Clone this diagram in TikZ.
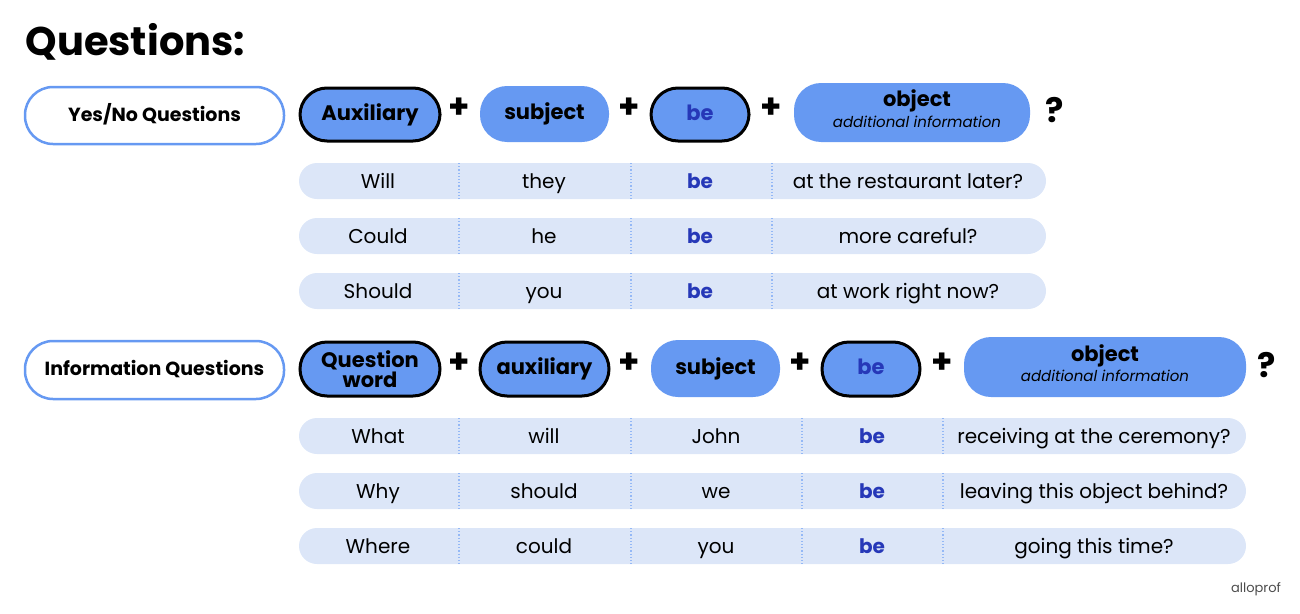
\documentclass[tikz,border=0pt]{standalone}
\usepackage{fontspec}
\setmainfont{Poppins}
\definecolor{pblue}{HTML}{6699F2}
\definecolor{rowc}{HTML}{DCE6F8}
\definecolor{bec}{HTML}{2638B8}
\begin{document}
\begin{tikzpicture}[x=1pt,y=-1pt,
 pill/.style={rounded corners=27pt,fill=pblue},
 bpill/.style={pill,draw=black,line width=3pt},
 cat/.style={rounded corners=28pt,fill=white,draw=pblue,line width=2.5pt},
 hd/.style={font=\fontsize{21}{21}\selectfont\bfseries,align=center,text height=15pt,text depth=5pt,inner sep=0pt},
 cell/.style={font=\fontsize{20}{20}\selectfont,text height=14pt,text depth=5pt,inner sep=0pt,yshift=-3pt},
 becell/.style={cell,font=\fontsize{20}{20}\selectfont\bfseries,text=bec},
 plus/.style={font=\fontsize{34}{34}\selectfont\bfseries},
 row/.style={fill=rowc,rounded corners=18pt},
 div/.style={draw=pblue!70,dotted,line width=1.2pt}]
\useasboundingbox (0,0) rectangle (1300,613);
\node[anchor=west,font=\fontsize{40}{40}\selectfont\bfseries] (title) at (22,42) {Questions:};
% Yes/No
\draw[cat] (25,87) rectangle (284,144);
\node[hd,font=\fontsize{19}{19}\selectfont\bfseries] (yn) at (154.5,116) {Yes/No Questions};
\draw[bpill] (300,88) rectangle (440,141); \node[hd] (a1) at (370,115) {Auxiliary};
\node[plus] (p1) at (459,108) {+};
\fill[pill] (480,86) rectangle (609,142); \node[hd] (s1) at (544.5,114) {subject};
\node[plus] (p2) at (629,108) {+};
\draw[bpill] (651,88) rectangle (749,141); \node[hd,text=bec] (b1) at (700,115) {be};
\node[plus] (p3) at (771,108) {+};
\fill[pill] (794,83) rectangle (1030,142);
\node[hd] (o1) at (917,101) {object};
\node[font=\fontsize{15}{15}\selectfont\itshape] (o1b) at (917,122) {additional information};
\node[plus] (q1) at (1055,110) {?};
\foreach \y/\a/\b/\d [count=\i] in {181/Will/they/at the restaurant later?,236/Could/he/more careful?,291/Should/you/at work right now?}{
 \fill[row] (299,\y-18) rectangle (1046,\y+18);
 \draw[div] (459,\y-18) -- (459,\y+18);
 \draw[div] (631,\y-18) -- (631,\y+18);
 \draw[div] (772,\y-18) -- (772,\y+18);
 \node[cell] (ya\i) at (378,\y) {\a};
 \node[cell] (yb\i) at (544,\y) {\b};
 \node[becell] (yc\i) at (700,\y) {be};
 \node[cell] (yd\i) at (908,\y) {\d};
}
% Info
\draw[cat] (25,341) rectangle (284,399);
\node[hd,font=\fontsize{19}{19}\selectfont\bfseries] (iq) at (154.5,370) {Information Questions};
\draw[bpill] (300,342) rectangle (440,396);
\node[font=\fontsize{21}{20}\selectfont\bfseries,align=center,inner sep=0pt] (a2) at (370,369) {Question\\word};
\node[plus] (p4) at (459,363) {+};
\draw[bpill] (480,342) rectangle (609,396); \node[hd] (x2) at (544.5,369) {auxiliary};
\node[plus] (p5) at (629,363) {+};
\fill[pill] (651,340) rectangle (780,397); \node[hd] (s2) at (715.5,369) {subject};
\node[plus] (p6) at (800,363) {+};
\draw[bpill] (822,342) rectangle (920,396); \node[hd,text=bec] (b2) at (871,369) {be};
\node[plus] (p7) at (942,363) {+};
\fill[pill] (964,337) rectangle (1246,397);
\node[hd] (o2) at (1105,356) {object};
\node[font=\fontsize{15}{15}\selectfont\itshape] (o2b) at (1105,376) {additional information};
\node[plus] (q2) at (1267,365) {?};
\foreach \y/\a/\b/\c/\d [count=\i] in {436/What/will/John/receiving at the ceremony?,491/Why/should/we/leaving this object behind?,546/Where/could/you/going this time?}{
 \fill[row] (299,\y-18) rectangle (1246,\y+18);
 \draw[div] (459,\y-18) -- (459,\y+18);
 \draw[div] (631,\y-18) -- (631,\y+18);
 \draw[div] (802,\y-18) -- (802,\y+18);
 \draw[div] (943,\y-18) -- (943,\y+18);
 \node[cell] (ia\i) at (378,\y) {\a};
 \node[cell] (ib\i) at (544,\y) {\b};
 \node[cell] (ic\i) at (716,\y) {\c};
 \node[becell] (id\i) at (872,\y) {be};
 \node[cell] (ie\i) at (1094,\y) {\d};
}
\node[font=\fontsize{13}{13}\selectfont,text=black!70] (logo) at (1256,589) {alloprof};
\end{tikzpicture}
\end{document}
